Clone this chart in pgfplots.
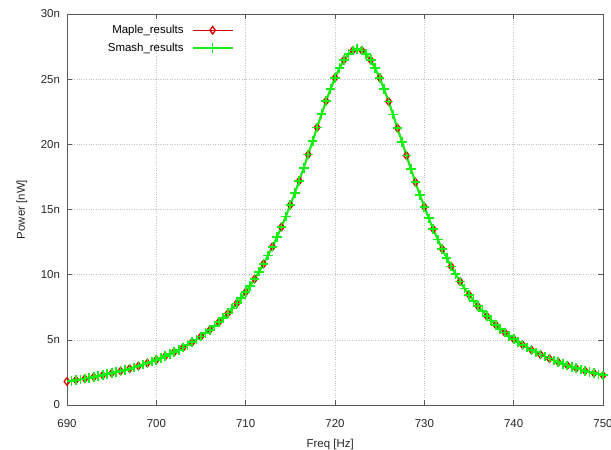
\documentclass[border=0pt]{standalone}
\usepackage{fontspec}
\setmainfont{Liberation Sans}
\usepackage{pgfplots}
\usepackage{pgfplotstable}
\pgfplotsset{compat=1.18}
\definecolor{mred}{RGB}{214,0,0}
\definecolor{mgreen}{RGB}{20,240,20}
\definecolor{axgray}{RGB}{90,90,90}
\definecolor{gridgray}{RGB}{195,195,195}
\pgfplotstableread{
f y
690 1.804
691 1.909
692 2.025
693 2.150
694 2.288
695 2.439
696 2.605
697 2.789
698 2.992
699 3.217
700 3.468
701 3.748
702 4.062
703 4.415
704 4.814
705 5.264
706 5.776
707 6.359
708 7.025
709 7.789
710 8.664
711 9.671
712 10.825
713 12.147
714 13.650
715 15.340
716 17.209
717 19.220
718 21.298
719 23.319
720 25.110
721 26.469
722 27.205
723 27.205
724 26.464
725 25.096
726 23.286
727 21.239
728 19.132
729 17.094
730 15.200
731 13.489
732 11.969
733 10.637
734 9.473
735 8.462
736 7.582
737 6.818
738 6.152
739 5.571
740 5.061
741 4.614
742 4.219
743 3.870
744 3.560
745 3.284
746 3.037
747 2.816
748 2.617
749 2.438
750 2.275
}\maple
\pgfplotstableread{
f y
690.5 1.855
691 1.909
691.5 1.966
692 2.025
692.5 2.086
693 2.150
693.5 2.218
694 2.288
694.5 2.362
695 2.439
695.5 2.520
696 2.605
696.5 2.695
697 2.789
697.5 2.888
698 2.992
698.5 3.102
699 3.217
699.5 3.339
700 3.468
700.5 3.605
701 3.748
701.5 3.901
702 4.062
702.5 4.234
703 4.415
703.5 4.608
704 4.814
704.5 5.032
705 5.264
705.5 5.512
706 5.776
706.5 6.058
707 6.359
707.5 6.681
708 7.025
708.5 7.394
709 7.789
709.5 8.213
710 8.664
710.5 9.152
711 9.671
711.5 10.229
712 10.825
712.5 11.466
713 12.147
713.5 12.875
714 13.650
714.5 14.472
715 15.340
715.5 16.254
716 17.209
716.5 18.200
717 19.220
717.5 20.256
718 21.298
718.5 22.324
719 23.319
719.5 24.256
720 25.110
720.5 25.855
721 26.469
721.5 26.923
722 27.205
722.5 27.300
723 27.205
723.5 26.922
724 26.464
724.5 25.848
725 25.096
725.5 24.233
726 23.286
726.5 22.280
727 21.239
727.5 20.183
728 19.132
728.5 18.099
729 17.094
729.5 16.126
730 15.200
730.5 14.321
731 13.489
731.5 12.706
732 11.969
732.5 11.282
733 10.637
733.5 10.035
734 9.473
734.5 8.949
735 8.462
735.5 8.006
736 7.582
736.5 7.187
737 6.818
737.5 6.474
738 6.152
738.5 5.852
739 5.571
739.5 5.308
740 5.061
740.5 4.831
741 4.614
741.5 4.410
742 4.219
742.5 4.040
743 3.870
743.5 3.711
744 3.560
744.5 3.418
745 3.284
745.5 3.157
746 3.037
746.5 2.924
747 2.816
747.5 2.714
748 2.617
748.5 2.525
749 2.438
749.5 2.354
750 2.275
}\smash
\begin{document}
\fontsize{11.5}{13.5}\selectfont
\begin{tikzpicture}
\useasboundingbox (-67bp,-45bp) rectangle (544bp,405bp);
\begin{axis}[
  scale only axis,
  width=536bp, height=391bp,
  xmin=690, xmax=750, ymin=0, ymax=30,
  xtick={690,700,...,750},
  xticklabels={690,700,710,720,730,740,750},
  ytick={0,5,...,30},
  yticklabels={0,5n,10n,15n,20n,25n,30n},
  tick align=inside,
  major tick length=5bp,
  tick style={axgray, line width=0.6bp},
  axis line style={axgray, line width=0.8bp},
  grid=major,
  major grid style={gridgray, dotted, line width=0.6bp},
  ticklabel style={font=\fontsize{11.5}{13.5}\selectfont, text=black!85},
  xticklabel style={yshift=-10bp},
  yticklabel style={xshift=-3bp},
  /pgf/number format/assume math mode=true,
  xlabel={Freq [Hz]},
  ylabel={Power [nW]},
  every axis x label/.style={at={(axis description cs:0.491,-0.1)}, anchor=center, font=\fontsize{11.5}{13.5}\selectfont, text=black!85},
  every axis y label/.style={at={(axis description cs:-0.084,0.5)}, rotate=90, anchor=center, font=\fontsize{11.5}{13.5}\selectfont, text=black!85},
  clip=false,
  legend plot pos=right,
  legend cell align=right,
  legend image code/.code={\draw[mark repeat=2,mark phase=2,#1] plot coordinates {(0bp,0bp) (20bp,0bp) (40bp,0bp)};},
  legend style={draw=none, fill=none, at={(axis description cs:0.315,0.982)}, anchor=north east, font=\fontsize{11.5}{13.5}\selectfont, row sep=3.5bp, column sep=6bp, inner sep=2bp},
]
\addplot[mred, line width=1.4bp, mark=diamond, mark size=3.8bp, mark options={line width=1.3bp, fill=none}] table[x=f,y=y] {\maple};
\addlegendentry{Maple\_results}
\addplot[mgreen, line width=2bp, mark=+, mark size=4.8bp, mark options={line width=1.7bp}] table[x=f,y=y] {\smash};
\addlegendentry{Smash\_results}
\end{axis}
\end{tikzpicture}
\end{document}
